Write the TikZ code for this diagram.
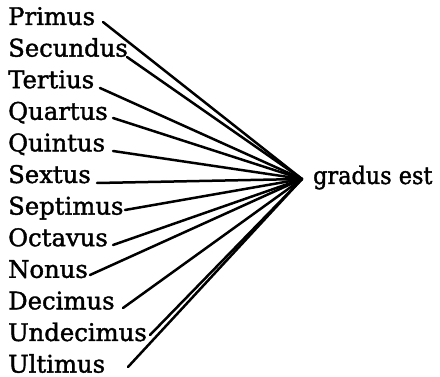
\documentclass[tikz,border=0pt]{standalone}
\usepackage{fontspec}
\setmainfont{DejaVu Serif}[BoldFont=DejaVu Serif,BoldFeatures={FakeBold=1.5}]
\begin{document}
\begin{tikzpicture}[x=1pt,y=-1pt,
  lab/.style={anchor=base west,inner sep=0pt,font=\fontsize{24.3}{28}\selectfont\bfseries},
  conn/.style={line width=2.5pt,line cap=round}]
\useasboundingbox (0,0) rectangle (440,377);
\coordinate (c) at (302,179);
\node[lab,anchor=base west] (g) at (313,184) {\scalebox{0.92}[1]{gradus est}};
\node[lab] (n1) at (8,25) {Primus};
\node[lab] (n2) at (8,56.6) {Secundus};
\node[lab] (n3) at (8,88.2) {Tertius};
\node[lab] (n4) at (8,119.8) {Quartus};
\node[lab] (n5) at (8,151.4) {Quintus};
\node[lab] (n6) at (8,183) {Sextus};
\node[lab] (n7) at (8,214.6) {Septimus};
\node[lab] (n8) at (8,246.2) {Octavus};
\node[lab] (n9) at (8,277.8) {Nonus};
\node[lab] (n10) at (8,309.4) {Decimus};
\node[lab] (n11) at (8,341) {Undecimus};
\node[lab] (n12) at (8,372.6) {Ultimus};
\coordinate (s1) at (103,22);
\coordinate (s2) at (127,57);
\coordinate (s3) at (100,88);
\coordinate (s4) at (113,118);
\coordinate (s5) at (113,151);
\coordinate (s6) at (97,183);
\coordinate (s7) at (125,210);
\coordinate (s8) at (113,245);
\coordinate (s9) at (90,275);
\coordinate (s10) at (123,308);
\coordinate (s11) at (150,335);
\coordinate (s12) at (128,367);
\foreach \i in {1,...,12} \draw[conn] (s\i) -- (c);
\end{tikzpicture}
\end{document}
